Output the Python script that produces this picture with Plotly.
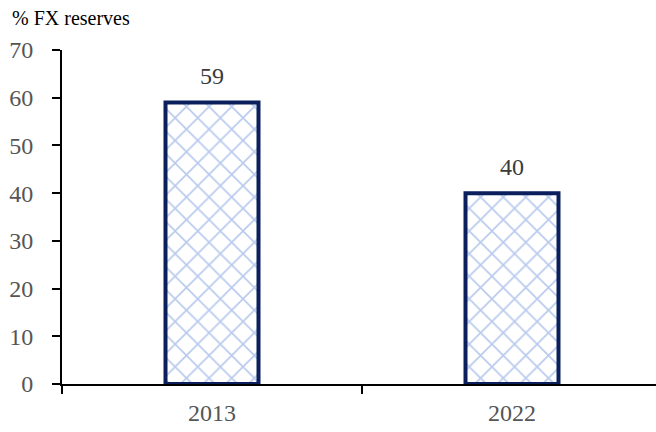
import plotly.graph_objects as go

categories = ["2013", "2022"]
values = [59, 40]
y_ticks = [0, 10, 20, 30, 40, 50, 60, 70]
y_title = "% FX reserves"

FONT = "Liberation Serif"

fig = go.Figure()
fig.add_trace(go.Bar(
    x=categories, y=values, width=0.31,
    marker=dict(
        color="white",
        line=dict(color="#0b1f5c", width=4),
        pattern=dict(shape="x", fgcolor="#7396dc", bgcolor="white", size=16, solidity=0.2),
    ),
    showlegend=False, hoverinfo="skip",
))

for i, v in enumerate(values):
    fig.add_annotation(x=i, y=v, text=str(v), showarrow=False, yanchor="bottom",
                       yshift=11, font=dict(family=FONT, size=24, color="#3a3a3a"))

fig.add_annotation(x=0, xref="paper", xanchor="left", xshift=-52, y=1, yref="paper",
                   yanchor="bottom", yshift=19, text=y_title, showarrow=False,
                   font=dict(family=FONT, size=20, color="black"))

fig.update_layout(
    width=656, height=432,
    margin=dict(l=62, r=0, t=50, b=48),
    plot_bgcolor="white", paper_bgcolor="white",
    font=dict(family=FONT, size=20, color="#555555"),
)
fig.update_xaxes(
    type="category", range=[-0.5, 1.48],
    showline=True, linecolor="black", linewidth=2,
    ticks="outside", tickson="boundaries", ticklen=8, tickwidth=2, tickcolor="black",
    showgrid=False, tickfont=dict(family=FONT, size=24, color="#555555"),
    ticklabelstandoff=6,
)
fig.update_yaxes(
    range=[0, 70], tickvals=y_ticks,
    showline=True, linecolor="black", linewidth=2,
    ticks="outside", ticklen=8, tickwidth=2, tickcolor="black",
    showgrid=False, zeroline=False,
    tickfont=dict(family=FONT, size=24, color="#555555"),
    ticklabelstandoff=14,
)

fig.write_html("out.html")
